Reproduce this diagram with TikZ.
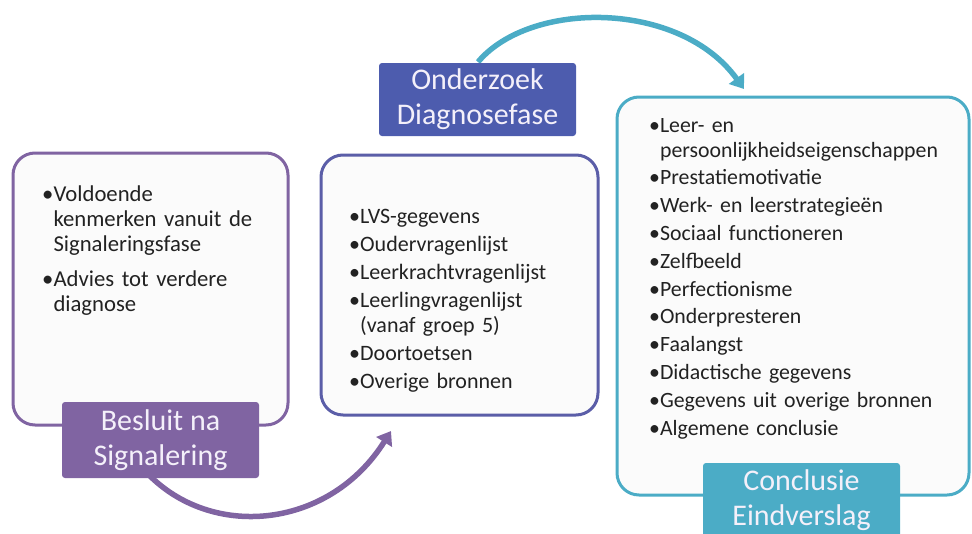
\documentclass[tikz,border=0pt]{standalone}
\usepackage{fontspec}
\setmainfont{Carlito}
\usetikzlibrary{arrows.meta}
\definecolor{cpurple}{HTML}{8064A2}
\definecolor{cblue}{HTML}{4D5CAE}
\definecolor{cblueb}{HTML}{5B5EA8}
\definecolor{cteal}{HTML}{4BACC6}
\definecolor{boxfill}{HTML}{FBFBFB}
\definecolor{txt}{HTML}{222222}
\definecolor{tagtxt}{HTML}{F4F0FA}
\newlength{\bulw}
\newcommand{\itm}[1]{\settowidth{\bulw}{\textbullet}\hangindent=\bulw\hangafter=1\noindent\textbullet#1\par}
\tikzset{
  panel/.style={draw, line width=3pt, fill=boxfill, rounded corners=22pt, inner sep=0pt},
  tag/.style={fill=#1, rounded corners=3pt, minimum width=197pt, text=tagtxt, align=center,
     font=\fontsize{30}{35}\selectfont, inner sep=0pt},
  list/.style={anchor=north west, text=txt, inner sep=0pt, align=left,
     font=\fontsize{22}{25}\selectfont, text width=#1},
  flow/.style={line width=5.5pt, -{Triangle[length=13pt,width=18pt]}}
}
\begin{document}
\begin{tikzpicture}[x=1pt,y=-1pt]
\useasboundingbox (0,0) rectangle (972,533);
% arrows (behind)
\coordinate (p1) at (150,476);
\coordinate (p2) at (391,431);
\coordinate (t1) at (478,62);
\coordinate (t2) at (744,89);
\draw[flow, draw=cpurple] (p1) .. controls (215,540) and (330,528) .. (p2);
\draw[flow, draw=cteal] (t1) .. controls (530,0) and (680,0) .. (t2);
% panels
\node[panel, draw=cpurple, minimum width=275pt, minimum height=272pt] (box1) at (150.5,289) {};
\node[panel, draw=cblueb, minimum width=277pt, minimum height=260pt] (box2) at (459.5,285) {};
\node[panel, draw=cteal, minimum width=352pt, minimum height=398pt] (box3) at (793,296) {};
% tags
\node[tag=cpurple, minimum height=76pt] (lab1) at (160.5,440) {Besluit na\\Signalering};
\node[tag=cblue, minimum height=73pt] (lab2) at (477.5,99.5) {Onderzoek\\Diagnosefase};
\node[tag=cteal, minimum height=74pt] (lab3) at (801.5,500) {Conclusie\\Eindverslag};
% lists
\node[list=245pt, font=\fontsize{22.7}{25}\selectfont] (l1) at (42,186) {%
\setlength{\parskip}{10pt}%
\itm{Voldoende\newline kenmerken vanuit de\newline Signaleringsfase}
\itm{Advies tot verdere\newline diagnose}};
\node[list=245pt] (l2) at (349,209) {%
\setlength{\parskip}{3pt}%
\itm{LVS-gegevens}
\itm{Oudervragenlijst}
\itm{Leerkrachtvragenlijst}
\itm{Leerlingvragenlijst\newline (vanaf groep 5)}
\itm{Doortoetsen}
\itm{Overige bronnen}};
\node[list=318pt, font=\fontsize{21.8}{25}\selectfont] (l3) at (649,118) {%
\setlength{\parskip}{2.8pt}%
\itm{Leer- en\newline persoonlijkheidseigenschappen}
\itm{Prestatiemotivatie}
\itm{Werk- en leerstrategieën}
\itm{Sociaal functioneren}
\itm{Zelfbeeld}
\itm{Perfectionisme}
\itm{Onderpresteren}
\itm{Faalangst}
\itm{Didactische gegevens}
\itm{Gegevens uit overige bronnen}
\itm{Algemene conclusie}};
\end{tikzpicture}
\end{document}
